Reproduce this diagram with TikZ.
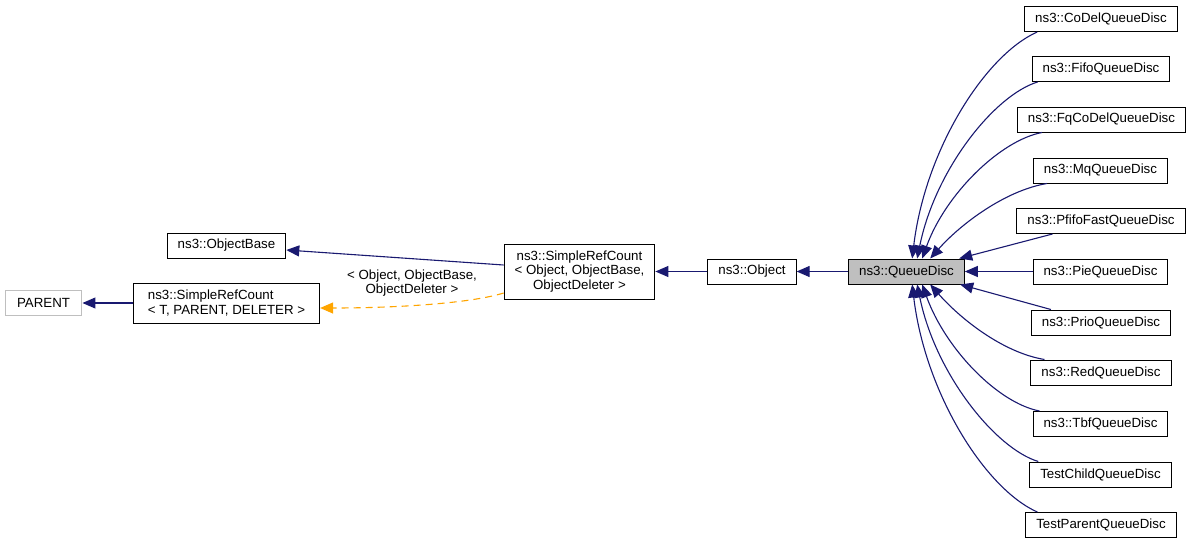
\documentclass[tikz,border=0pt]{standalone}
\usepackage{fontspec}
\setmainfont{Liberation Sans}
\usetikzlibrary{arrows.meta}
\definecolor{edgeblue}{HTML}{191970}
\definecolor{tmplorange}{HTML}{FFA500}
\definecolor{boxgray}{HTML}{BFBFBF}
\tikzset{
    cls/.style={draw, rectangle, line width=1pt, inner xsep=10.5pt, inner ysep=0pt,
        minimum height=25pt, align=center, font=\fontsize{13.3}{14.5}\selectfont},
    inh/.style={draw=edgeblue, line width=1.1pt, -{Triangle[length=13pt,width=11pt]}},
    tmpl/.style={draw=tmplorange, line width=1.1pt, dash pattern=on 7pt off 5pt,
        -{Triangle[length=13pt,width=11pt]}},
    lbl/.style={align=center, inner sep=0pt, font=\fontsize{13.3}{14.5}\selectfont}
}
\begin{document}
\begin{tikzpicture}[x=1pt, y=-1pt]
    \useasboundingbox (0,0) rectangle (1192,544);
    % base classes
    \node[cls, draw=boxgray, inner xsep=12pt] (parent) at (43.5,303) {PARENT};
    \node[cls, align=left, inner xsep=14.5pt, minimum height=40pt] (srct) at (226.5,303) {ns3::SimpleRefCount\\< T, PARENT, DELETER >};
    \node[cls] (objbase) at (226.5,245.5) {ns3::ObjectBase};
    \node[cls, minimum height=55pt] (srco) at (579.5,271.5) {ns3::SimpleRefCount\\< Object, ObjectBase,\\ObjectDeleter >};
    \node[cls] (obj) at (752,271.5) {ns3::Object};
    \node[cls, fill=boxgray] (qd) at (906.5,271.5) {ns3::QueueDisc};
    % derived classes
    \node[cls] (codel) at (1101,19) {ns3::CoDelQueueDisc};
    \node[cls] (fifo) at (1101,69) {ns3::FifoQueueDisc};
    \node[cls] (fqcodel) at (1101.5,119.5) {ns3::FqCoDelQueueDisc};
    \node[cls] (mq) at (1100.5,170.5) {ns3::MqQueueDisc};
    \node[cls] (pfifo) at (1101,221) {ns3::PfifoFastQueueDisc};
    \node[cls] (pie) at (1100.5,271.5) {ns3::PieQueueDisc};
    \node[cls] (prio) at (1101,322.5) {ns3::PrioQueueDisc};
    \node[cls] (red) at (1101,372.5) {ns3::RedQueueDisc};
    \node[cls] (tbf) at (1100.5,424) {ns3::TbfQueueDisc};
    \node[cls] (tchild) at (1100.5,474.5) {TestChildQueueDisc};
    \node[cls] (tparent) at (1101,525) {TestParentQueueDisc};
    % inheritance, left part
    \draw[inh] (qd) -- (obj);
    \draw[inh] (obj) -- (srco);
    \draw[inh] ([yshift=6.5pt]srco.west) -- ([yshift=-4.5pt]objbase.east);
    \draw[inh] (srct) -- (parent);
    \draw[tmpl] ([yshift=-21.5pt]srco.west) .. controls +(-32,10) and +(80,0) .. ([yshift=-5pt]srct.east);
    \node[lbl] (tlabel) at (412,283) {< Object, ObjectBase,\\ObjectDeleter >};
    % inheritance, right part
    \draw[inh] ([xshift=13pt]codel.south west) .. controls +(-52,23) and +(13,-109) .. ([xshift=64pt]qd.north west);
    \draw[inh] ([xshift=6pt]fifo.south west) .. controls +(-43,13) and +(18,-89) .. ([xshift=69pt]qd.north west);
    \draw[inh] ([xshift=25pt]fqcodel.south west) .. controls +(-42,8) and +(23,-64) .. ([xshift=74pt]qd.north west);
    \draw[inh] ([xshift=14pt]mq.south west) .. controls +(-42,7) and +(30,-34) .. ([xshift=82pt]qd.north west);
    \draw[inh] ([xshift=36pt]pfifo.south west) -- ([xshift=111pt]qd.north west);
    \draw[inh] (pie) -- (qd);
    \draw[inh] ([xshift=20pt]prio.north west) -- ([xshift=112pt]qd.south west);
    \draw[inh] ([xshift=14pt]red.north west) .. controls +(-42,-7) and +(30,34) .. ([xshift=82pt]qd.south west);
    \draw[inh] ([xshift=7pt]tbf.north west) .. controls +(-42,-8) and +(23,64) .. ([xshift=74pt]qd.south west);
    \draw[inh] ([xshift=9pt]tchild.north west) .. controls +(-43,-13) and +(18,89) .. ([xshift=69pt]qd.south west);
    \draw[inh] ([xshift=12pt]tparent.north west) .. controls +(-52,-23) and +(13,109) .. ([xshift=64pt]qd.south west);
\end{tikzpicture}
\end{document}
